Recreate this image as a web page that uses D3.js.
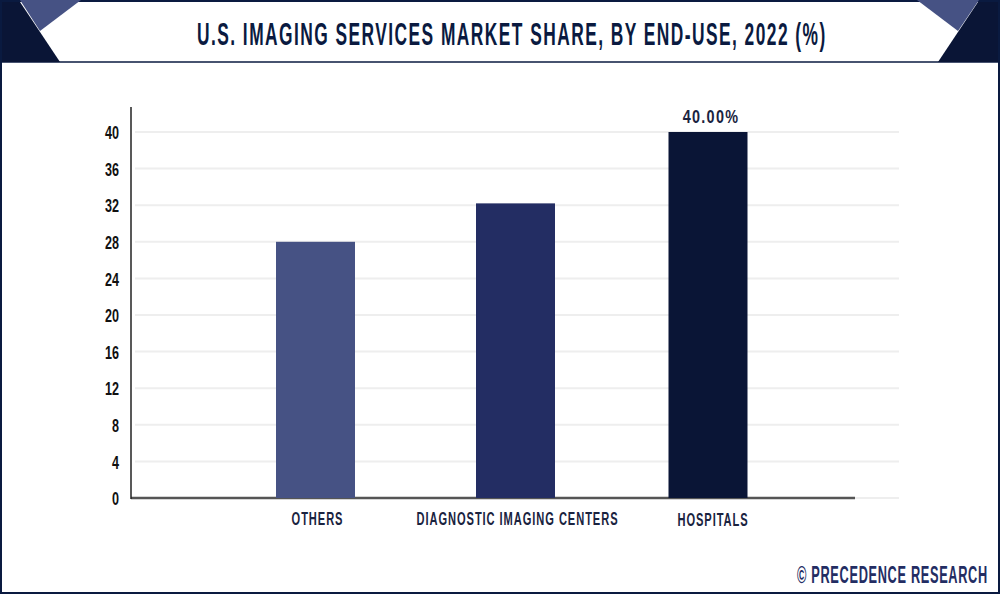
<!DOCTYPE html>
<html>
<head>
<meta charset="utf-8">
<style>
  html, body { margin: 0; padding: 0; background: #fff; }
  svg { display: block; }
  text { font-family: "Liberation Sans", sans-serif; font-weight: 700; }
</style>
</head>
<body>
<svg id="chart"></svg>
<script src="https://cdnjs.cloudflare.com/ajax/libs/d3/7.8.5/d3.min.js"></script>
<script>
const categories = ['OTHERS', 'DIAGNOSTIC IMAGING CENTERS', 'HOSPITALS']
const shares = [28, 32.2, 40]
const barColors = ['#465284', '#232d63', '#0a1536']
const yTicks = [0, 4, 8, 12, 16, 20, 24, 28, 32, 36, 40]
const valueLabels = ['', '', '40.00%']
const chartTitle = 'U.S. IMAGING SERVICES MARKET SHARE, BY END-USE, 2022 (%)'
const credit = '© PRECEDENCE RESEARCH'

const w = 1000
const h = 594
const navy = '#0a1a40'

const svg = d3.select('#chart').attr('width', w).attr('height', h)

// no condensed font installed, so squeeze the text sideways
const condensed = 0.585

// squeeze a left aligned text to an exact width
const fitText = (sel, left, baseline, width) => {
  const natural = sel.node().getComputedTextLength()
  sel.attr('transform', `translate(${left},${baseline}) scale(${width / natural},1)`)
}

// the bars are not evenly spaced in the original, so ordinal instead of band
const x = d3.scaleOrdinal().domain(categories).range([315.5, 515.5, 708])
const barWidth = 79
const y = d3.scaleLinear().domain([0, 40]).range([498, 132])

// header
const line = d3.line()
svg.append('rect').attr('x', 1).attr('y', 1).attr('width', w - 2).attr('height', h - 2)
  .attr('fill', 'none').attr('stroke', navy).attr('stroke-width', 2)
svg.append('line').attr('x1', 0).attr('x2', w).attr('y1', 62).attr('y2', 62)
  .attr('stroke', navy).attr('stroke-width', 1.5)
svg.append('path').attr('d', line([[2, 2], [20, 2], [60, 62], [2, 62]]) + 'Z').attr('fill', '#0a1536')
svg.append('path').attr('d', line([[20, 0], [81, 0], [40, 31]]) + 'Z').attr('fill', '#465284')
svg.append('path').attr('d', line([[998, 2], [978, 2], [938, 62], [998, 62]]) + 'Z').attr('fill', '#0a1536')
svg.append('path').attr('d', line([[917, 0], [979, 0], [958, 31]]) + 'Z').attr('fill', '#465284')

svg.append('text')
  .attr('font-size', 31)
  .attr('letter-spacing', 2.6)
  .attr('fill', navy)
  .text(chartTitle)
  .call(fitText, 197, 44.5, 630)

// grid
svg.append('g').selectAll('line').data(yTicks).join('line')
  .attr('x1', 135).attr('x2', 899)
  .attr('y1', d => y(d)).attr('y2', d => y(d))
  .attr('stroke', '#eeeeee').attr('stroke-width', 2)

// axis lines sit behind the bars
svg.append('line').attr('x1', 131).attr('x2', 855).attr('y1', y(0)).attr('y2', y(0))
  .attr('stroke', '#555').attr('stroke-width', 2.5)

// bars
svg.append('g').selectAll('rect').data(categories).join('rect')
  .attr('x', d => x(d) - barWidth / 2)
  .attr('width', barWidth)
  .attr('y', (d, i) => y(shares[i]))
  .attr('height', (d, i) => y(0) - y(shares[i]))
  .attr('fill', (d, i) => barColors[i])

// axes
const yAxis = d3.axisLeft(y).tickValues(yTicks).tickSize(0)
const yG = svg.append('g').attr('transform', 'translate(131,0)').call(yAxis)
yG.select('.domain').remove()
yG.selectAll('text')
  .attr('x', 0)
  .attr('font-size', 17.5)
  .attr('font-family', null)
  .attr('fill', '#111')
  .attr('transform', `translate(-12,1) scale(0.72,1)`)

svg.append('line').attr('x1', 131).attr('x2', 131).attr('y1', 107).attr('y2', 499)
  .attr('stroke', '#222').attr('stroke-width', 1.5)

// category labels
svg.append('g').selectAll('text').data(categories).join('text')
  .attr('text-anchor', 'middle')
  .attr('font-size', 19)
  .attr('letter-spacing', 1.6)
  .attr('fill', '#1a2340')
  .attr('transform', (d, i) => `translate(${x(d) + 2 + (i == 2 ? 3 : 0)},${i == 2 ? 526 : 525}) scale(${condensed},1)`)
  .text(d => d)

// value label
svg.append('g').selectAll('text').data(categories).join('text')
  .attr('text-anchor', 'middle')
  .attr('font-size', 18)
  .attr('letter-spacing', 1.6)
  .attr('fill', '#1a2340')
  .attr('transform', (d, i) => `translate(${x(d) + 3},${y(shares[i]) - 9}) scale(0.8,1)`)
  .text((d, i) => valueLabels[i])

svg.append('text')
  .attr('font-size', 23)
  .attr('letter-spacing', 1.2)
  .attr('fill', '#232d63')
  .text(credit)
  .call(fitText, 797, 583, 191)
</script>
</body>
</html>
